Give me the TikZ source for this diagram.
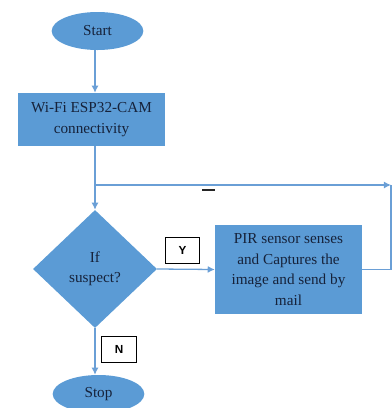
\documentclass[tikz,border=0pt]{standalone}
\usepackage{fontspec}
\setmainfont{Liberation Serif}
\newfontfamily\labelfont{Liberation Sans}
\usepackage{tikz}
\usetikzlibrary{arrows.meta,shapes.geometric}
\definecolor{boxblue}{HTML}{5B9BD5}
\definecolor{lineblue}{HTML}{6A9FD6}
\definecolor{inkblue}{HTML}{16223A}

\begin{document}
\begin{tikzpicture}[x=0.03cm, y=-0.03cm,
    flow/.style={draw=none, fill=boxblue, text=inkblue, align=center,
                 font=\rmfamily\fontsize{13}{17.5}\selectfont, inner sep=0pt},
    terminal/.style={flow, ellipse, minimum width=2.75cm, minimum height=1.14cm},
    process/.style={flow, rectangle, minimum width=4.41cm},
    choice/.style={flow, diamond, minimum width=3.72cm, minimum height=3.54cm},
    tag/.style={draw=black, fill=white, line width=0.6pt, inner sep=0pt,
                minimum width=1.04cm, minimum height=0.78cm,
                font=\labelfont\bfseries\fontsize{10}{11}\selectfont},
    link/.style={draw=lineblue, line width=1.1pt},
    arr/.style={link, -{Latex[length=6pt,width=6pt]}}]
    \useasboundingbox (0,0) rectangle (392,408);
    \node [terminal] (Start) at (97.5, 31) {Start};
    \node [process, minimum height=1.59cm] (Wifi) at (91.5, 119.5) {Wi-Fi ESP32-CAM\\connectivity};
    \node [choice] (Suspect) at (95, 269) {If\\suspect?};
    \node [process, minimum height=2.67cm] (Pir) at (288.5, 269.5) {PIR sensor senses\\and Captures the\\image and send by\\mail};
    \node [terminal] (Stop) at (98.5, 394) {Stop};
    \node [tag] (YesTag) at (182.5, 250.5) {Y};
    \node [tag] (NoTag) at (119, 349) {N};
    \node [inner sep=0pt, text=black!85] (Mark) at (208.5, 190) {\rule{0.38cm}{1.8pt}};
    \coordinate (Split) at (95, 185);
    \coordinate (Corner) at (391, 185);
    \draw [arr] (Start.south -| Suspect.north) -- (Wifi.north -| Suspect.north);
    \draw [arr] (Wifi.south -| Suspect.north) -- (Suspect.north);
    \draw [arr] (Split) -- (Corner);
    \draw [link] (Pir.east) -| (Corner);
    \draw [arr] (Suspect.east) -- (Pir.west);
    \draw [arr] (Suspect.south) -- (Stop.north -| Suspect.south);
\end{tikzpicture}
\end{document}
